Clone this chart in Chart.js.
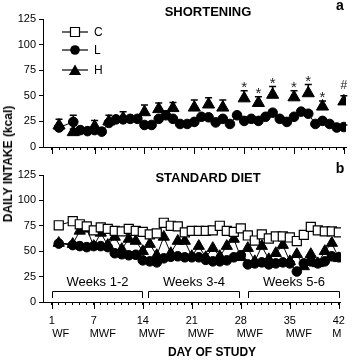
<!DOCTYPE html>
<html>
<head>
<meta charset="utf-8">
<script src="https://cdn.jsdelivr.net/npm/chart.js@4.4.1/dist/chart.umd.min.js"></script>
<style>
  html, body { margin: 0; padding: 0; background: #fff; }
  #wrap { position: relative; width: 354px; height: 360px; }
  #top { position: absolute; left: 0; top: 0; }
  #bot { position: absolute; left: 0; top: 160px; }
  #ylab {
    position: absolute; left: 8px; top: 164px;
    transform: translate(-50%, -50%) rotate(-90deg);
    font: bold 12px "Liberation Sans", Arial, sans-serif;
    white-space: nowrap; color: #000;
  }
</style>
</head>
<body>
<div id="wrap">
  <canvas id="top" width="354" height="160"></canvas>
  <canvas id="bot" width="354" height="200"></canvas>
  <div id="ylab">DAILY INTAKE (kcal)</div>
</div>
<script>
// days with data (day 3 has no point)
const days = [2, 4, 5, 6, 7, 8, 9, 10, 11, 12, 13, 14, 15, 16, 17, 18, 19, 20, 21, 22,
              23, 24, 25, 26, 27, 28, 29, 30, 31, 32, 33, 34, 35, 36, 37, 38, 39, 40, 41, 42];
// shortening offered Mon/Wed/Fri
const mwfDays = [2, 4, 7, 9, 11, 14, 16, 18, 21, 23, 25, 28, 30, 32, 35, 37, 39, 42];

// panel a: shortening intake
const shortL = [19, 24.5, 16.5, 15.5, 16.5, 15, 23.5, 27, 27, 27.5, 27.5, 21.5, 21.5, 27.5, 31, 27.5, 22.5, 22.5, 24.5, 29.5,
                29, 24, 27.5, 22.5, 31, 25.5, 27.5, 25.5, 29.5, 33.5, 27.5, 24.5, 29.5, 34.5, 32.5, 22.5, 25.5, 22.5, 19, 19.5];
const errL = [2, 6.5, 2, 2, 2, 2, 2, 2, 2, 2, 2, 2, 2, 2, 4, 2, 2, 2, 2, 2,
              2, 2, 2, 2, 2, 2, 2, 2, 2, 2, 2, 2, 2, 2, 2, 2, 2, 2, 2, 2];
const shortH = [21, 14.5, 20, 25, 28, 34, 37, 38, 38.5, 41.5, 38.5, 47.5, 43, 51, 48.5, 52.5, 39.5, 44.5];
const errH = [6, 3, 6, 6, 6.5, 7, 6, 5.5, 7.5, 6.5, 7.5, 7.5, 6, 8, 6.5, 8.5, 5.5, 5.5];
const sigH = ['', '', '', '', '', '', '', '', '', '', '', '*', '*', '*', '*', '*', '*', '#'];

// panel b: standard diet intake
const stdC = [75.5, 79.5, 76.5, 74.5, 70.5, 73.5, 72, 70, 69.5, 72, 70, 69, 66.5, 67.5, 78, 75, 74.5, 68.5, 70, 70,
              70, 70.5, 75, 70, 69, 72.5, 65.5, 60.5, 66.5, 62.5, 64.5, 64.5, 63.5, 60, 66, 74, 70.5, 69.5, 69.5, 68.5];
const stdL = [57.5, 56, 55, 54, 55, 55, 54, 48, 47, 46, 46.5, 41, 40, 39, 43, 44.5, 45, 44, 44, 44,
              41.5, 40, 40, 41, 44, 46, 37, 38, 39, 37, 38, 39, 38, 30, 38, 40, 38, 40, 45, 44];
const stdH = [58, 57, 70, 72, 55, 68, 56, 64, 52, 62, 60, 50, 57, 46, 64, 48, 60, 60, 45, 55,
              44, 53, 45, 55, 62, 44, 53, 40, 55, 42, 48, 56, 40, 47, 35, 47, 38, 50, 58, 43];

// axes
const xMajor = [1, 7, 14, 21, 28, 35, 42];
const weekdayLabels = ['WF', 'MWF', 'MWF', 'MWF', 'MWF', 'MWF', 'M'];
const yTicks = [0, 12.5, 25, 37.5, 50, 62.5, 75, 87.5, 100, 112.5, 125];
const weekBlocks = ['Weeks 1-2', 'Weeks 3-4', 'Weeks 5-6'];

const FONT = '"Liberation Sans", Arial, Helvetica, sans-serif';
const xTicks = [];
for (let d = 1; d <= 42; d++) xTicks.push(d);

function pts(xs, ys) { return xs.map((d, i) => ({ x: d, y: ys[i] })); }

function drawMarker(ctx, style, x, y) {
  ctx.save();
  ctx.fillStyle = '#000'; ctx.strokeStyle = '#000'; ctx.lineWidth = 1.2;
  ctx.beginPath();
  if (style === 'circle') {
    ctx.arc(x, y, 4.8, 0, Math.PI * 2); ctx.fill();
  } else if (style === 'triangle') {
    const r = 7;
    ctx.moveTo(x, y - r); ctx.lineTo(x + r * 0.866, y + r * 0.5); ctx.lineTo(x - r * 0.866, y + r * 0.5);
    ctx.closePath(); ctx.fill();
  } else {
    ctx.fillStyle = '#fff'; ctx.rect(x - 4.5, y - 4.5, 9, 9); ctx.fill(); ctx.stroke();
  }
  ctx.restore();
}

const decor = {
  id: 'decor',
  beforeDatasetsDraw(chart) {
    const { ctx, scales: { x, y } } = chart;
    chart.data.datasets.forEach(ds => {
      if (!ds.err) return;
      ctx.save();
      ctx.strokeStyle = '#000'; ctx.lineWidth = 1.5;
      ds.data.forEach((p, i) => {
        const px = x.getPixelForValue(p.x);
        const y0 = y.getPixelForValue(p.y), y1 = y.getPixelForValue(p.y + ds.err[i]);
        ctx.beginPath();
        ctx.moveTo(px, y0); ctx.lineTo(px, y1);
        ctx.moveTo(px - 3.5, y1); ctx.lineTo(px + 3.5, y1);
        ctx.stroke();
      });
      ctx.restore();
    });
  },
  afterDraw(chart, args, opts) {
    const { ctx, chartArea: ca, scales: { x, y } } = chart;
    ctx.save();
    ctx.fillStyle = '#000'; ctx.strokeStyle = '#000';

    // longer ticks at labelled days
    ctx.lineWidth = 1;
    xMajor.forEach(d => {
      const px = Math.round(x.getPixelForValue(d)) + 0.5;
      ctx.beginPath(); ctx.moveTo(px, ca.bottom); ctx.lineTo(px, ca.bottom + 7); ctx.stroke();
    });

    // panel title and letter
    ctx.textAlign = 'center'; ctx.textBaseline = 'middle';
    ctx.font = 'bold 13px ' + FONT;
    ctx.fillText(opts.title, 208, opts.titleY);
    ctx.font = 'bold 14px ' + FONT;
    ctx.fillText(opts.letter, 340, opts.letterY);

    if (opts.legend) {
      const rows = [['C', 'rect', 32], ['L', 'circle', 50], ['H', 'triangle', 70]];
      ctx.font = '12px ' + FONT;
      rows.forEach(([lab, st, ry]) => {
        ctx.lineWidth = 1.2;
        ctx.beginPath(); ctx.moveTo(62, ry); ctx.lineTo(88, ry); ctx.stroke();
        drawMarker(ctx, st, 75, st === 'triangle' ? ry + 1.5 : ry);
        ctx.textAlign = 'left';
        ctx.fillText(lab, 94, ry + 1);
      });
    }

    // significance marks above H error bars
    chart.data.datasets.forEach(ds => {
      if (!ds.sig) return;
      ds.data.forEach((p, i) => {
        const s = ds.sig[i];
        if (!s) return;
        const px = x.getPixelForValue(p.x);
        const top = y.getPixelForValue(p.y + ds.err[i]);
        ctx.textAlign = 'center'; ctx.textBaseline = 'alphabetic';
        ctx.fillStyle = '#222';
        if (s === '*') { ctx.font = '15px ' + FONT; ctx.fillText(s, px, top + 1); }
        else { ctx.font = '12px ' + FONT; ctx.fillText(s, px, top - 7); }
      });
    });
    ctx.fillStyle = '#000';

    if (opts.brackets) {
      const spans = [[1, 13.9], [14.8, 27.8], [29, 42]];
      const yh = Math.round(y.getPixelForValue(10.8)) + 0.5, yl = y.getPixelForValue(3.9);
      const yt = y.getPixelForValue(19);
      ctx.lineWidth = 1;
      ctx.font = '13px ' + FONT; ctx.textAlign = 'center'; ctx.textBaseline = 'middle';
      spans.forEach(([a, b], i) => {
        const xa = Math.round(x.getPixelForValue(a)) + 0.5, xb = Math.round(x.getPixelForValue(b)) + 0.5;
        ctx.beginPath();
        ctx.moveTo(xa, yl); ctx.lineTo(xa, yh); ctx.lineTo(xb, yh); ctx.lineTo(xb, yl);
        ctx.stroke();
        ctx.fillText(weekBlocks[i], (xa + xb) / 2, yt);
      });

      // weekday row and axis title
      ctx.font = '11px ' + FONT;
      xMajor.forEach((d, i) => {
        const shift = i === xMajor.length - 1 ? -2 : 9;
        ctx.fillText(weekdayLabels[i], x.getPixelForValue(d) + shift, ca.bottom + 32);
      });
      ctx.font = 'bold 12px ' + FONT;
      ctx.fillText('DAY OF STUDY', 212, ca.bottom + 51);
    }
    ctx.restore();
  }
};

function xScale(showLabels, h) {
  return {
    type: 'linear', min: -0.25, max: 42.3,
    afterBuildTicks: s => { s.ticks = xTicks.map(v => ({ value: v })); },
    afterFit: s => { s.height = h; },
    ticks: {
      autoSkip: false, maxRotation: 0, padding: 9, color: '#000',
      font: { family: FONT, size: 11 },
      callback: v => (showLabels && xMajor.includes(v)) ? String(v) : ''
    },
    grid: { drawOnChartArea: false, tickLength: 3, color: '#000', lineWidth: 1 },
    border: { color: '#000', width: 1 }
  };
}

function yScale() {
  return {
    min: 0, max: 125,
    afterBuildTicks: s => { s.ticks = yTicks.map(v => ({ value: v })); },
    afterFit: s => { s.width = 43; },
    ticks: {
      padding: 3, color: '#000', font: { family: FONT, size: 11 },
      callback: v => (v % 25 === 0 ? String(v) : '')
    },
    grid: { drawOnChartArea: false, tickLength: 4, color: '#000', lineWidth: 1 },
    border: { color: '#000', width: 1 }
  };
}

const common = {
  responsive: false,
  animation: false,
  events: [],
  elements: { line: { borderColor: '#000', borderWidth: 1, tension: 0 } }
};

new Chart(document.getElementById('top'), {
  type: 'line',
  data: {
    datasets: [
      { label: 'H', data: pts(mwfDays, shortH), err: errH, sig: sigH, showLine: false,
        pointStyle: 'triangle', pointRadius: 7, pointBackgroundColor: '#000', pointBorderColor: '#000', borderColor: '#000' },
      { label: 'L', data: pts(days, shortL), err: errL,
        pointStyle: 'circle', pointRadius: 4.8, pointBackgroundColor: '#000', pointBorderColor: '#000', borderColor: '#000', borderWidth: 1 }
    ]
  },
  options: Object.assign({}, common, {
    layout: { padding: { top: 19, right: 5, left: 0, bottom: 0 } },
    scales: { x: xScale(false, 13), y: yScale() },
    plugins: {
      legend: { display: false }, tooltip: { enabled: false },
      decor: { title: 'SHORTENING', titleY: 12, letter: 'a', letterY: 6, legend: true }
    }
  }),
  plugins: [decor]
});

new Chart(document.getElementById('bot'), {
  type: 'line',
  data: {
    datasets: [
      { label: 'C', data: pts(days, stdC), pointStyle: 'rect', pointRadius: 6.4,
        pointBackgroundColor: '#fff', pointBorderColor: '#000', pointBorderWidth: 1.2, borderColor: '#000', borderWidth: 1 },
      { label: 'H', data: pts(days, stdH), pointStyle: 'triangle', pointRadius: 6.5,
        pointBackgroundColor: '#000', pointBorderColor: '#000', borderColor: '#000', borderWidth: 1 },
      { label: 'L', data: pts(days, stdL), pointStyle: 'circle', pointRadius: 4.8,
        pointBackgroundColor: '#000', pointBorderColor: '#000', borderColor: '#000', borderWidth: 1 }
    ]
  },
  options: Object.assign({}, common, {
    layout: { padding: { top: 15, right: 5, left: 0, bottom: 0 } },
    scales: { x: xScale(true, 58), y: yScale() },
    plugins: {
      legend: { display: false }, tooltip: { enabled: false },
      decor: { title: 'STANDARD DIET', titleY: 18, letter: 'b', letterY: 9, brackets: true }
    }
  }),
  plugins: [decor]
});
</script>
</body>
</html>
